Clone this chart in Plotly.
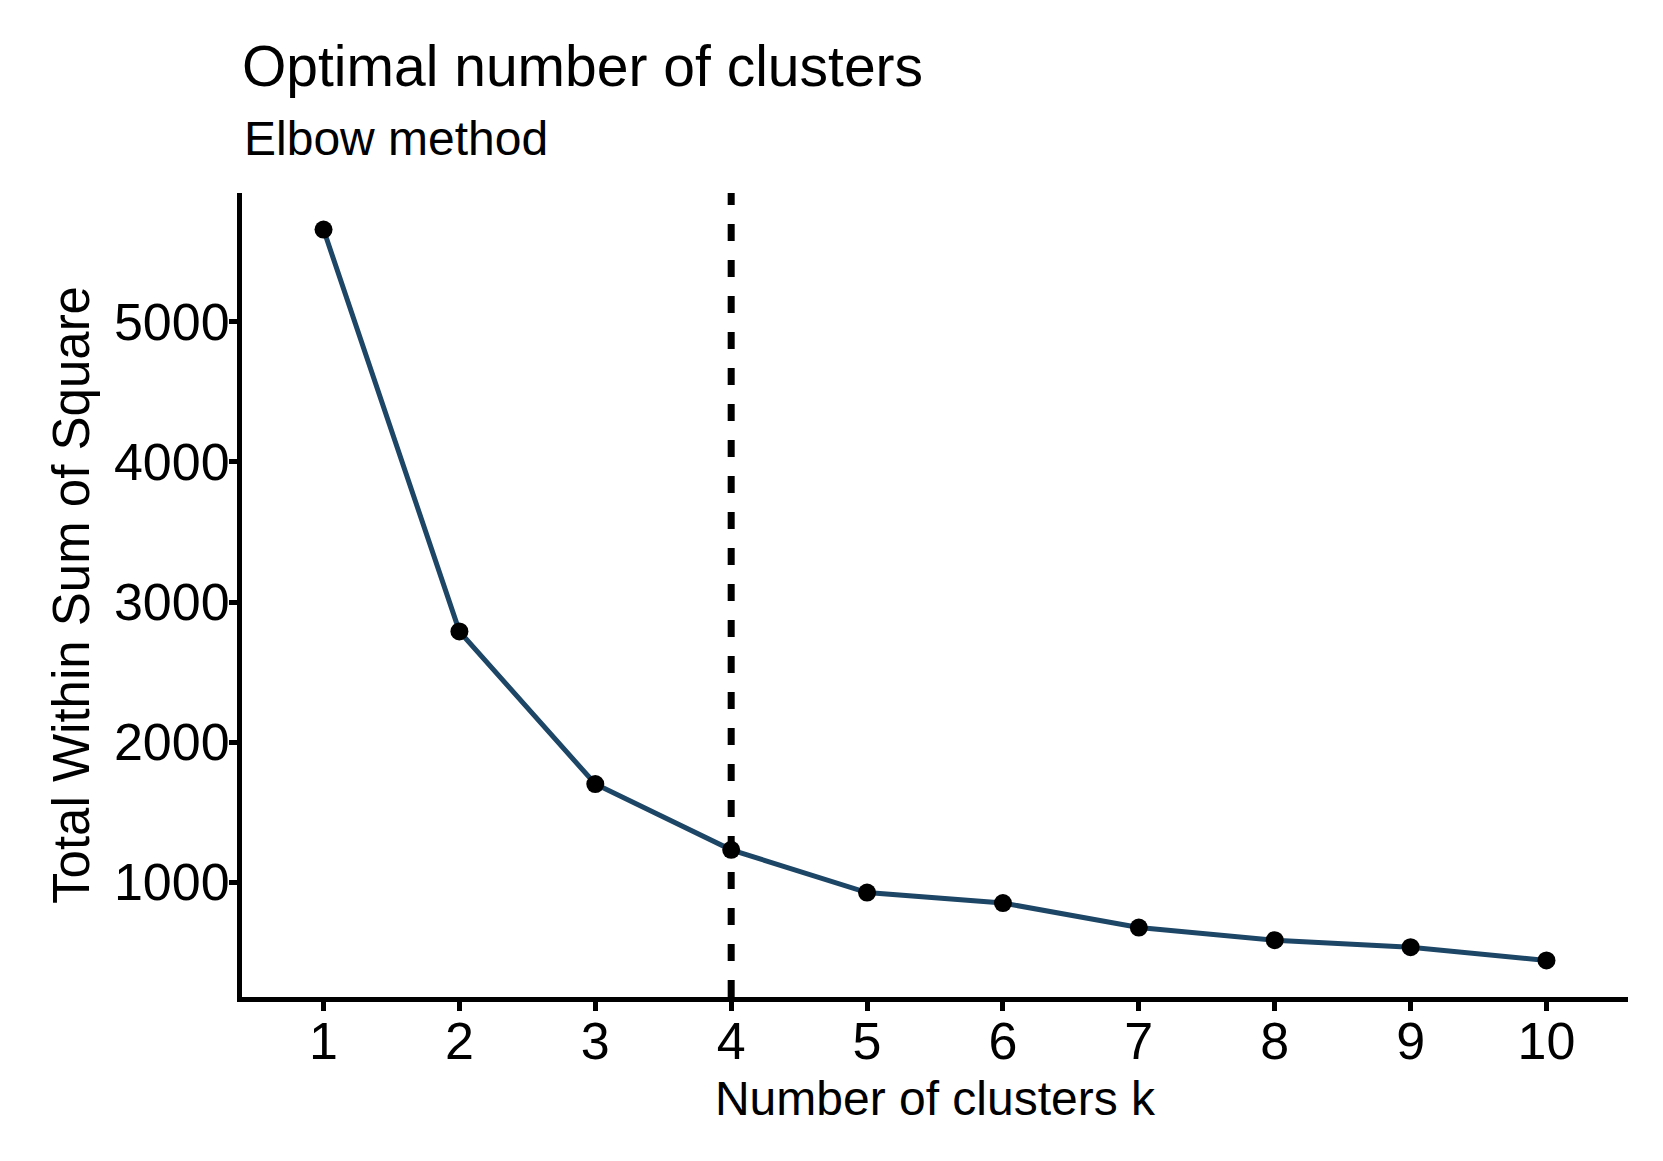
import plotly.graph_objects as go

# elbow curve
k_values = [1, 2, 3, 4, 5, 6, 7, 8, 9, 10]
wss = [5660, 2790, 1700, 1230, 925, 850, 675, 585, 535, 440]
optimal_k = 4
y_ticks = [1000, 2000, 3000, 4000, 5000]

FONT = "Liberation Sans"

lo, hi = min(wss), max(wss)
pad = 0.05 * (hi - lo)

# page body has an 8px margin, so the figure is 8px smaller each way
W, H = 1655, 1153

fig = go.Figure()
fig.add_trace(go.Scatter(
    x=k_values,
    y=wss,
    mode="lines+markers",
    line=dict(color="#1c4566", width=5),
    marker=dict(color="black", size=18),
    showlegend=False,
))
fig.add_vline(
    x=optimal_k,
    line=dict(color="black", width=7, dash="17px,19px"),
)

fig.update_layout(
    width=W,
    height=H,
    paper_bgcolor="white",
    plot_bgcolor="white",
    margin=dict(l=234, r=35, t=185, b=164),
    font=dict(family=FONT, color="black"),
    title=dict(
        text="Optimal number of clusters",
        font=dict(family=FONT, size=57, color="black"),
        xref="paper", x=0, xanchor="left",
        yref="container", y=1 - 58 / H, yanchor="middle",
    ),
    annotations=[dict(
        text="Elbow method",
        xref="paper", yref="paper",
        x=0, y=1.068, xanchor="left", yanchor="middle",
        showarrow=False,
        font=dict(family=FONT, size=48, color="black"),
    )],
)
fig.update_xaxes(
    range=[0.4, 10.6],
    tickvals=k_values,
    showgrid=False,
    zeroline=False,
    showline=True, linecolor="black", linewidth=5,
    ticks="outside", ticklen=9, tickwidth=5, tickcolor="black",
    tickfont=dict(size=52, color="black"),
    ticklabelstandoff=-14,
    title=dict(text="Number of clusters k", font=dict(size=48), standoff=13),
)
fig.update_yaxes(
    range=[lo - pad, hi + pad],
    tickvals=y_ticks,
    showgrid=False,
    zeroline=False,
    showline=True, linecolor="black", linewidth=5,
    ticks="outside", ticklen=8, tickwidth=5, tickcolor="black",
    tickfont=dict(size=52, color="black"),
    ticklabelstandoff=-11,
    title=dict(text="Total Within Sum of Square", font=dict(size=51), standoff=10),
)

fig.write_html("out.html")
